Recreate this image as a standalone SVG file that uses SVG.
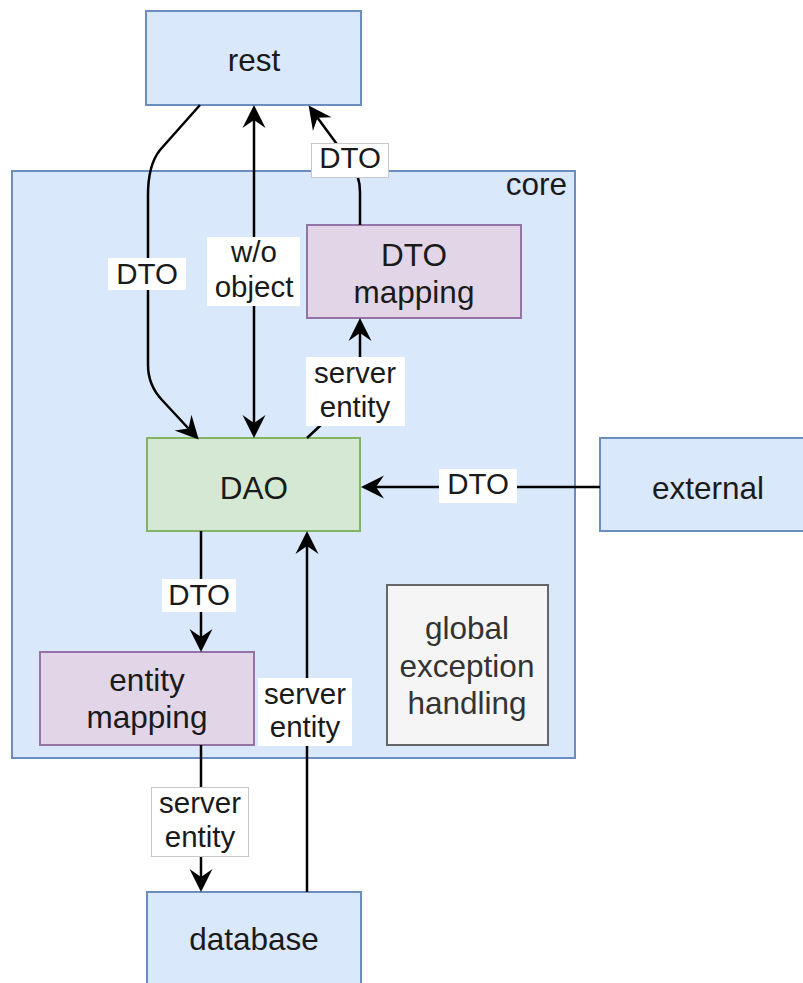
<svg xmlns="http://www.w3.org/2000/svg" width="803" height="983" viewBox="0 0 803 983">
  <style>
    .blue { fill: #dae8fc; stroke: #6c8ebf; stroke-width: 2; }
    .green { fill: #d5e8d4; stroke: #82b366; stroke-width: 2; }
    .purple { fill: #e1d5e7; stroke: #9673a6; stroke-width: 2; }
    .gray { fill: #f5f5f5; stroke: #666666; stroke-width: 2; }
    .node { font-family: "Liberation Sans", Arial, sans-serif; font-size: 31.5px; fill: #1a1a1a; text-anchor: middle; }
    .muted { fill: #333333; }
    .edge { fill: none; stroke: #000000; stroke-width: 2.5; }
    .lblbg { fill: #ffffff; stroke: none; }
    .lblbg.out { stroke: #c8c8c8; stroke-width: 1; }
    .lbl { font-family: "Liberation Sans", Arial, sans-serif; font-size: 29.5px; fill: #1a1a1a; text-anchor: middle; }
  </style>
  <defs>
    <marker id="arrow" markerUnits="userSpaceOnUse" viewBox="-9 -13 26 26" markerWidth="26" markerHeight="26" refX="0" refY="0" orient="auto-start-reverse" overflow="visible">
      <path d="M-8,-11.5 L15,0 L-8,11.5 L0,0 Z" fill="#000000"/>
    </marker>
  </defs>

  <!-- container -->
  <g id="core">
    <rect class="blue" x="12" y="171" width="563" height="587"/>
    <text class="node" x="567" y="195" style="text-anchor:end">core</text>
  </g>

  <g id="rest">
    <rect class="blue" x="146" y="11" width="215" height="94"/>
    <text class="node" x="254" y="71">rest</text>
  </g>

  <g id="dto-mapping">
    <rect class="purple" x="307" y="225" width="214" height="93"/>
    <text class="node" x="414" y="266">DTO</text>
    <text class="node" x="414" y="303">mapping</text>
  </g>

  <g id="dao">
    <rect class="green" x="147" y="438" width="213" height="93"/>
    <text class="node" x="254" y="499">DAO</text>
  </g>

  <g id="external">
    <rect class="blue" x="600" y="438" width="205" height="93"/>
    <text class="node" x="708" y="499">external</text>
  </g>

  <g id="entity-mapping">
    <rect class="purple" x="40" y="652" width="214" height="93"/>
    <text class="node" x="147" y="691">entity</text>
    <text class="node" x="147" y="728">mapping</text>
  </g>

  <g id="global-exception-handling">
    <rect class="gray" x="387" y="585" width="161" height="160"/>
    <text class="node muted" x="467" y="639">global</text>
    <text class="node muted" x="467" y="677">exception</text>
    <text class="node muted" x="467" y="714">handling</text>
  </g>

  <g id="database">
    <rect class="blue" x="147" y="892" width="214" height="100"/>
    <text class="node" x="254" y="950">database</text>
  </g>

  <!-- connectors -->
  <g id="connectors">
    <path class="edge" d="M200,105 L160,150 Q148,165 148,195 L148,365 Q148,385 162,400 L188.5,428.5" marker-end="url(#arrow)"/>
    <path class="edge" d="M254,120 L254,423" marker-start="url(#arrow)" marker-end="url(#arrow)"/>
    <path class="edge" d="M360,225 L360,192 Q360,175 350,162 L317.5,117.7" marker-end="url(#arrow)"/>
    <path class="edge" d="M307,438 L322,424 Q360,390 360,360 L360,333" marker-end="url(#arrow)"/>
    <path class="edge" d="M600,487 L376,487" marker-end="url(#arrow)"/>
    <path class="edge" d="M201,531 L201,637" marker-end="url(#arrow)"/>
    <path class="edge" d="M201,745 L201,877" marker-end="url(#arrow)"/>
    <path class="edge" d="M307,892 L307,546" marker-end="url(#arrow)"/>

    <!-- edge labels -->
    <rect class="lblbg" x="108" y="258" width="78" height="32"/>
    <text class="lbl" x="147" y="284">DTO</text>

    <rect class="lblbg" x="207" y="237" width="93" height="69"/>
    <text class="lbl" x="254" y="262">w/o</text>
    <text class="lbl" x="254" y="297">object</text>

    <rect class="lblbg out" x="311.5" y="143.5" width="77" height="34"/>
    <text class="lbl" x="350" y="168">DTO</text>

    <rect class="lblbg" x="306" y="357" width="99" height="69"/>
    <text class="lbl" x="355" y="383">server</text>
    <text class="lbl" x="355" y="417">entity</text>

    <rect class="lblbg" x="439" y="469" width="78" height="34"/>
    <text class="lbl" x="478" y="494">DTO</text>

    <rect class="lblbg" x="162" y="579" width="74" height="33"/>
    <text class="lbl" x="199" y="605">DTO</text>

    <rect class="lblbg" x="258" y="678" width="94" height="68"/>
    <text class="lbl" x="305" y="704">server</text>
    <text class="lbl" x="305" y="737">entity</text>

    <rect class="lblbg out" x="151.5" y="787.5" width="97" height="69"/>
    <text class="lbl" x="200" y="813">server</text>
    <text class="lbl" x="200" y="847">entity</text>
  </g>
</svg>
